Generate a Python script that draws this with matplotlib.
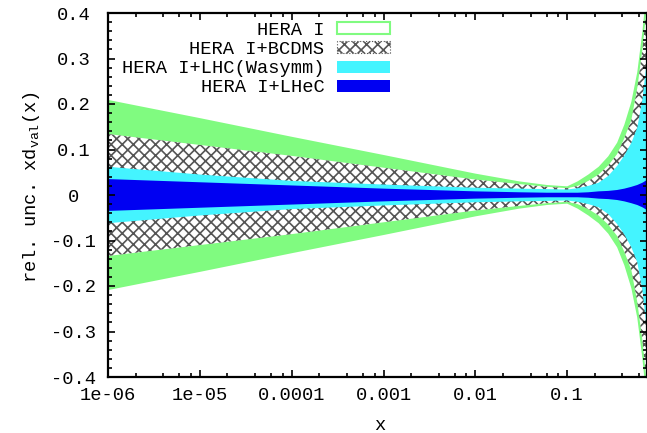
import numpy as np
import matplotlib
matplotlib.use("Agg")
import matplotlib.pyplot as plt
from matplotlib.patches import Patch
from matplotlib.ticker import FixedLocator, MultipleLocator, NullFormatter

plt.rcParams['font.family'] = ['Liberation Mono', 'DejaVu Sans Mono']
plt.rcParams['font.size'] = 13.5
plt.rcParams['mathtext.default'] = 'regular'
plt.rcParams['axes.unicode_minus'] = False
plt.rcParams['hatch.linewidth'] = 1.2

# x grid and half widths of the relative uncertainty bands
x = [1e-6, 1e-5, 1e-4, 1e-3, 1e-2, 0.03, 0.06, 0.1, 0.13, 0.17, 0.22, 0.28,
     0.35, 0.42, 0.5, 0.58, 0.66, 0.74]
hera1 = [0.209, 0.169, 0.128, 0.088, 0.047, 0.030, 0.022, 0.019, 0.030, 0.045,
         0.062, 0.085, 0.115, 0.155, 0.205, 0.27, 0.36, 0.46]
bcdms = [0.134, 0.110, 0.086, 0.060, 0.034, 0.024, 0.018, 0.015, 0.020, 0.031,
         0.045, 0.065, 0.090, 0.125, 0.165, 0.235, 0.32, 0.42]
lhc = [0.062, 0.045, 0.031, 0.023, 0.016, 0.014, 0.013, 0.012, 0.015, 0.020,
       0.027, 0.042, 0.064, 0.087, 0.115, 0.148, 0.21, 0.30]
lhec = [0.035, 0.028, 0.021, 0.014, 0.008, 0.006, 0.005, 0.005, 0.005, 0.006,
        0.008, 0.009, 0.011, 0.014, 0.018, 0.022, 0.027, 0.033]

labels = ["HERA I", "HERA I+BCDMS", "HERA I+LHC(Wasymm)", "HERA I+LHeC"]

xtick_vals = [1e-6, 1e-5, 1e-4, 1e-3, 1e-2, 0.1]
xtick_labels = ["1e-06", "1e-05", "0.0001", "0.001", "0.01", "0.1"]
ytick_vals = [0.4, 0.3, 0.2, 0.1, 0.0, -0.1, -0.2, -0.3, -0.4]
ytick_labels = ["0.4", "0.3", "0.2", "0.1", "0", "-0.1", "-0.2", "-0.3", "-0.4"]

green = "#80fb80"
hatchgray = "#555555"
cyan = "#44f4ff"
blue = "#0000f2"

fig = plt.figure(figsize=(6.47, 4.33), dpi=100)
ax = fig.add_axes([108 / 647, 1 - 377 / 433, 539 / 647, 364 / 433])

xs = np.array(x)
ax.fill_between(xs, -np.array(hera1), hera1, facecolor=green, edgecolor="none", lw=0)
ax.fill_between(xs, -np.array(bcdms), bcdms, facecolor="white", edgecolor=hatchgray,
                hatch="xxx", lw=0)
ax.fill_between(xs, -np.array(lhc), lhc, facecolor=cyan, edgecolor="none", lw=0)
ax.fill_between(xs, -np.array(lhec), lhec, facecolor=blue, edgecolor="none", lw=0)

ax.set_xscale("log")
ax.set_xlim(1e-6, 0.74)
ax.set_ylim(-0.4, 0.4)

ax.xaxis.set_major_locator(FixedLocator(xtick_vals))
ax.set_xticklabels(xtick_labels)
minors = [k * 10.0 ** e for e in range(-6, 0) for k in (2, 4, 6, 8)]
ax.xaxis.set_minor_locator(FixedLocator(minors))
ax.xaxis.set_minor_formatter(NullFormatter())
ax.set_yticks(ytick_vals)
ax.set_yticklabels(ytick_labels)
ax.yaxis.set_minor_locator(MultipleLocator(0.02))
for lbl in ax.get_yticklabels():
    lbl.set_horizontalalignment("center")

ax.tick_params(which="both", direction="in", top=True, right=True, width=1.2)
ax.tick_params(which="major", length=5)
ax.tick_params(which="minor", length=3)
ax.tick_params(axis="x", pad=7)
ax.tick_params(axis="y", pad=25)
for s in ax.spines.values():
    s.set_linewidth(1.6)

ax.set_xlabel("x")
ax.xaxis.set_label_coords((380 - 108) / 539, (377 - 430) / 364)
ax.xaxis.label.set_verticalalignment("baseline")
ax.set_ylabel(r"rel. unc. xd$_{val}$(x)")
ax.yaxis.set_label_coords((42 - 108) / 539, 0.522)

handles = [
    Patch(facecolor="white", edgecolor=green, lw=1.5),
    Patch(facecolor="white", edgecolor=hatchgray, hatch="xxx", lw=0.8, ls=":"),
    Patch(facecolor=cyan, edgecolor="none"),
    Patch(facecolor=blue, edgecolor="none"),
]
ax.legend(handles, labels, loc="upper right", bbox_to_anchor=(0.523, 0.976),
          borderaxespad=0, borderpad=0, frameon=False, markerfirst=False,
          handlelength=2.8, handleheight=0.6, handletextpad=0.7,
          labelspacing=0.12)

fig.savefig("out.png", dpi=100)
